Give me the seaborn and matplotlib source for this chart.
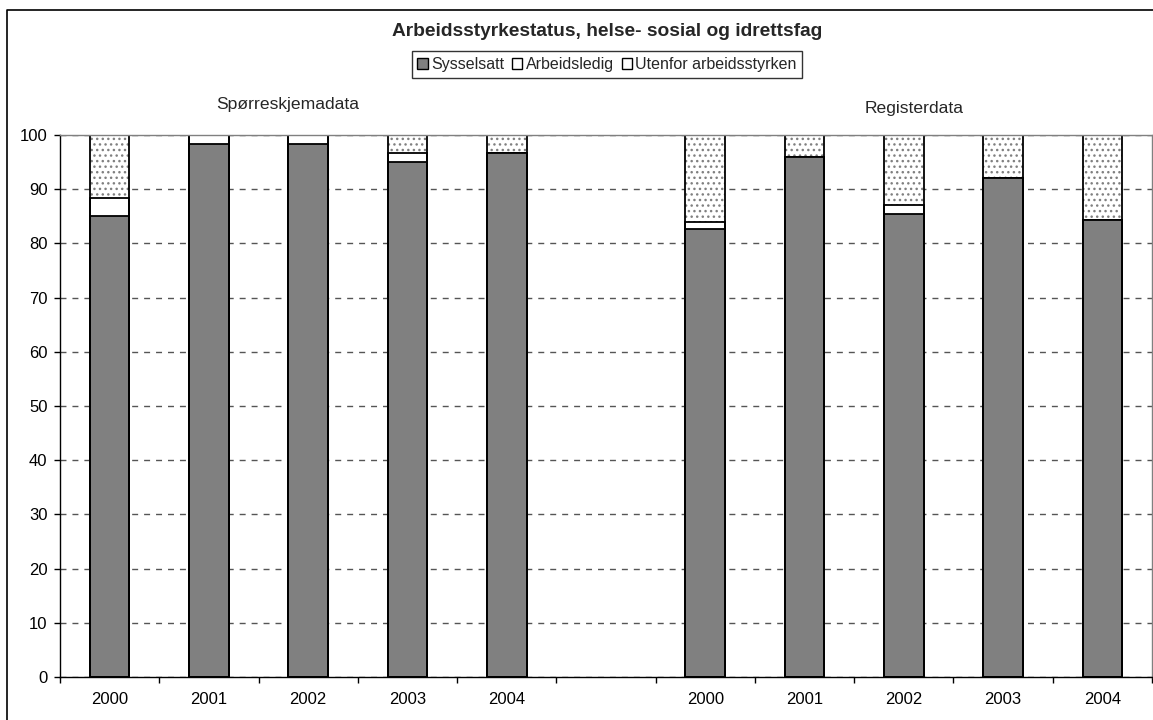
import numpy as np
import pandas as pd
import matplotlib.pyplot as plt
import seaborn as sns
from matplotlib.patches import Patch
from matplotlib.lines import Line2D

sns.set_theme(style="white")
plt.rcParams["font.family"] = ["Liberation Sans", "DejaVu Sans"]
plt.rcParams["hatch.linewidth"] = 1.0


years = ["2000", "2001", "2002", "2003", "2004"]

# Spørreskjemadata
sysselsatt_sp = [85.0, 98.3, 98.3, 95.1, 96.7]
ledig_sp = [3.3, 1.7, 1.7, 1.6, 0.0]
utenfor_sp = [11.7, 0.0, 0.0, 3.3, 3.3]

# Registerdata
sysselsatt_reg = [82.6, 96.0, 85.5, 92.1, 84.4]
ledig_reg = [1.4, 0.0, 1.5, 0.0, 0.0]
utenfor_reg = [16.2, 4.0, 13.0, 7.9, 15.6]

series_names = ["Sysselsatt", "Arbeidsledig", "Utenfor arbeidsstyrken"]


slots = ["sp" + y for y in years] + ["gap"] + ["reg" + y for y in years]

df = pd.DataFrame({
    "slot": slots,
    "S": sysselsatt_sp + [np.nan] + sysselsatt_reg,
    "A": ledig_sp + [np.nan] + ledig_reg,
    "U": utenfor_sp + [np.nan] + utenfor_reg,
})
df["SA"] = df["S"] + df["A"]
df["SAU"] = df["SA"] + df["U"]


fig = plt.figure(figsize=(11.53, 7.2), dpi=100)
ax = fig.add_axes([60 / 1153, 1 - 677 / 720, 1092 / 1153, 542 / 720])

common = dict(data=df, x="slot", order=slots, width=0.4, errorbar=None, ax=ax)

# toppen: utenfor arbeidsstyrken (prikket)
sns.barplot(y="SAU", color="white", hatch="...", edgecolor="#808080",
            linewidth=0, **common)
# arbeidsledig
sns.barplot(y="SA", color="white", edgecolor="black", linewidth=1.3, **common)
# sysselsatt
sns.barplot(y="S", color="#808080", edgecolor="black", linewidth=1.3, **common)
# omriss
sns.barplot(y="SAU", facecolor="none", edgecolor="black", linewidth=1.3, **common)

ax.set_xlim(-0.5, 10.5)
ax.set_ylim(0, 100)
ax.set_xlabel("")
ax.set_ylabel("")

ax.set_yticks(range(0, 101, 10))
ax.tick_params(axis="y", left=True, length=4, width=1, color="black",
               pad=5, labelsize=12, labelcolor="black")

centers = [i for i, s in enumerate(slots) if s != "gap"]
ax.set_xticks(np.arange(-0.5, 11, 1), labels=[""] * 12)
ax.set_xticks(centers, labels=years + years, minor=True)
ax.tick_params(axis="x", which="major", bottom=True, length=4, width=1,
               color="black")
ax.tick_params(axis="x", which="minor", bottom=True, length=0, pad=11,
               labelsize=12, labelcolor="black")

ax.yaxis.grid(True, color="#555555", linestyle=(0, (4.3, 4.3)), linewidth=1)
ax.xaxis.grid(False)
ax.set_axisbelow(True)

for side in ["left", "bottom"]:
    ax.spines[side].set_color("black")
    ax.spines[side].set_linewidth(1)
for side in ["top", "right"]:
    ax.spines[side].set_color("#808080")
    ax.spines[side].set_linewidth(1)
    ax.spines[side].set_visible(True)


fig.text(607 / 1153, 1 - 32 / 720, "Arbeidsstyrkestatus, helse- sosial og idrettsfag",
         ha="center", va="center", fontsize=13.8, fontweight="bold")

fig.text(288 / 1153, 1 - 104 / 720, "Spørreskjemadata",
         ha="center", va="center", fontsize=12.6)
fig.text(914 / 1153, 1 - 108 / 720, "Registerdata",
         ha="center", va="center", fontsize=12.6)

handles = [
    Patch(facecolor="#808080", edgecolor="black", linewidth=1),
    Patch(facecolor="white", edgecolor="black", linewidth=1),
    Patch(facecolor="white", edgecolor="black", linewidth=1),
]
leg = fig.legend(
    handles, series_names,
    loc="center",
    bbox_to_anchor=(607 / 1153, 1 - 64.5 / 720),
    ncol=3,
    fontsize=11.5,
    frameon=True,
    fancybox=False,
    handlelength=0.65,
    handleheight=0.65,
    handletextpad=0.2,
    columnspacing=0.5,
    borderpad=0.35,
    borderaxespad=0,
)
leg.get_frame().set_edgecolor("black")
leg.get_frame().set_linewidth(1)

# ytre ramme
fig.add_artist(Line2D([7 / 1153, 7 / 1153, 1.0], [0.0, 1 - 10 / 720, 1 - 10 / 720],
                      transform=fig.transFigure, color="black", linewidth=1.2))

plt.savefig("out.png", dpi=100)
plt.close()
